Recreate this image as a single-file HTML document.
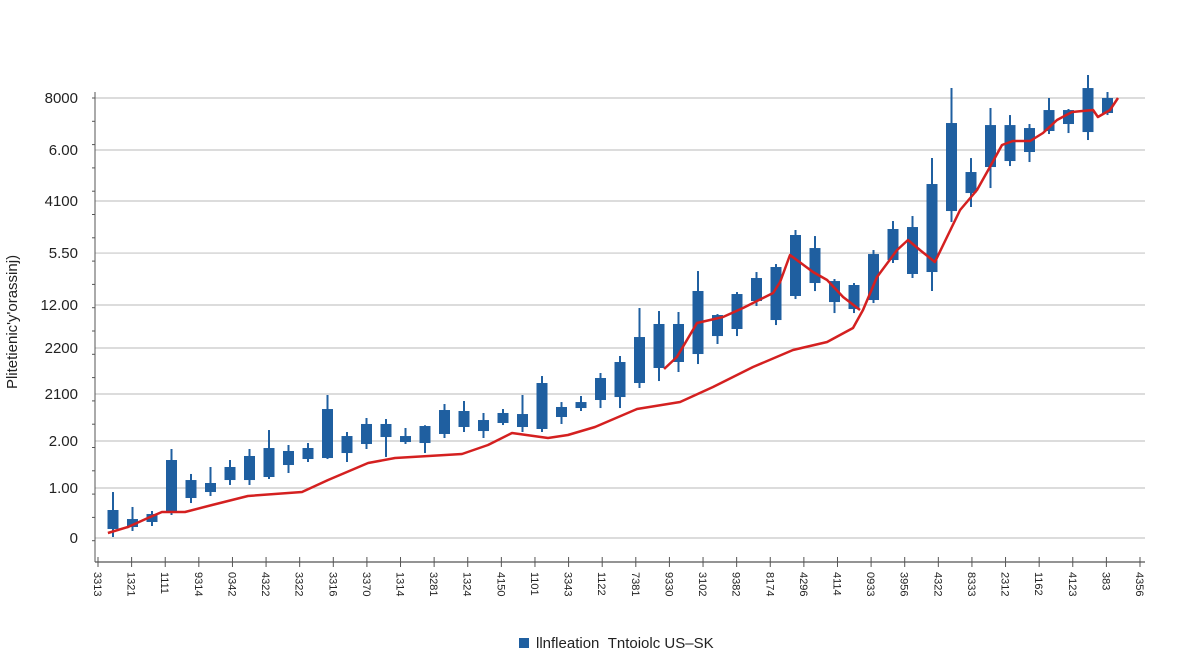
<!DOCTYPE html>
<html><head><meta charset="utf-8"><style>
html,body{margin:0;padding:0;background:#fff;width:1200px;height:654px;overflow:hidden}
svg{display:block;font-family:"Liberation Sans",sans-serif}
</style></head><body>
<svg id="chart" width="1200" height="654" viewBox="0 0 1200 654" xmlns="http://www.w3.org/2000/svg">
<g id="grid"></g>
<g id="yaxis"></g>
<g id="xaxis"></g>
<g id="candles"></g>
<g id="lines"></g>
<text x="0" y="0" transform="translate(17,322) rotate(-90)" text-anchor="middle" font-size="15" fill="#222">Plitetienic'y'orassinj)</text>
<g>
<rect x="519" y="638" width="10" height="10" fill="#1f5fa0"></rect>
<text x="536" y="648" font-size="15" fill="#222">llnfleation&#160;&#160;Tntoiolc US–SK</text>
</g>
</svg>
<script>
const yTickValues=[8000,7054,6127,5181,4236,3454,2618,1764,909,0];
const yTickLabels=["8000","6.00","4100","5.50","12.00","2200","2100","2.00","1.00","0"];
const xTickLabels=["3313","1321","1111","9314","0342","4322","3322","3316","3370","1314","3281","1324","4150","1101","3343","1122","7381","9330","3102","9382","8174","4296","4114","0933","3956","4322","8333","2312","1162","4123","383","4356"];
const candleHigh=[836,564,491,1618,1164,1291,1418,1618,1963,1691,1727,2600,1927,2182,2163,2000,2050,2436,2491,2273,2345,2600,2945,2472,2582,3000,3309,4182,4127,4109,4854,4072,4472,4836,4981,5600,5490,4709,4636,5236,5763,5854,6908,8181,6908,7818,7690,7527,8000,7800,8418,8109];
const candleTop=[509,345,436,1418,1054,1000,1291,1491,1636,1582,1636,2345,1854,2073,2073,1854,2036,2327,2309,2145,2273,2254,2818,2382,2472,2909,3200,3654,3891,3891,4491,4054,4436,4727,4927,5509,5272,4672,4600,5163,5618,5654,6436,7545,6654,7508,7508,7454,7781,7781,8181,8000];
const candleBottom=[164,200,291,473,727,836,1054,1054,1109,1327,1436,1454,1545,1709,1836,1745,1727,1891,2018,1945,2091,2018,1982,2200,2363,2509,2563,2818,3091,3200,3345,3672,3800,4309,3963,4400,4636,4290,4163,4327,5054,4800,4836,5945,6272,6745,6854,7018,7400,7527,7381,7727];
const candleLow=[18,127,218,418,636,764,964,964,1073,1182,1382,1436,1382,1618,1473,1709,1545,1818,1927,1818,2054,1927,1927,2073,2309,2363,2363,2727,2854,3018,3163,3527,3672,4218,3872,4345,4490,4090,4090,4272,5000,4727,4490,5745,6018,6363,6763,6836,7345,7363,7236,7690];
const trendIdx=[-0.26,0.77,1.79,2.51,3.69,5.08,6.92,9.69,11.03,13.08,14.46,17.9,19.23,20.46,22.31,23.33,24.72,26.87,29.08,30.77,32.82,34.87,36.62,37.95,38.46,39.18,40.21,40.77,41.38,42.15,42.77,43.44,44.31,44.97,45.59,46.15,47.03,47.69,48.41,49.18,50.26,50.51,51.13,51.54];
const trendVal=[91,200,364,473,473,600,764,836,1054,1364,1454,1527,1691,1909,1818,1873,2018,2345,2473,2745,3109,3418,3563,3818,4145,4745,5236,5418,5236,5018,5472,5963,6327,6745,7145,7218,7218,7363,7600,7745,7781,7654,7781,8000];
const maIdx=[28.26,28.92,29.95,31.28,32.31,33.85,34.21,34.72,35.9,36.62,37.44,38.31];
const maVal=[3073,3291,3909,4018,4182,4454,4654,5145,4836,4690,4382,4145];

const NS="http://www.w3.org/2000/svg";
const X0=95,X1=1145,Y0=538,Y1=98,VMAX=8000;
function y(v){return Y0-(v/VMAX)*(Y0-Y1);}
function xc(i){return 113+i*19.5;}
function xt(i){return 98+i*(1140-98)/(xTickLabels.length-1);}
function mk(tag,attrs,parent){const e=document.createElementNS(NS,tag);for(const k in attrs)e.setAttribute(k,attrs[k]);parent.appendChild(e);return e;}
const grid=document.getElementById('grid'),ya=document.getElementById('yaxis'),xa=document.getElementById('xaxis'),cg=document.getElementById('candles'),lg=document.getElementById('lines');
yTickValues.forEach((v,i)=>{
  const l=mk('line',{x1:X0,x2:X1,y1:y(v),y2:y(v),stroke:'#c8c8c8','stroke-width':1.2},grid);
  
  
  const t=mk('text',{x:78,y:y(v)+5,'text-anchor':'end','font-size':15,fill:'#222'},ya);
  t.textContent=yTickLabels[i];
  
  
});
const yl=mk('line',{x1:X0,x2:X0,y1:92,y2:562,stroke:'#555','stroke-width':1},ya);


for(let k=0;k<20;k++){const tk=mk('line',{x1:X0-3,x2:X0,y1:98+k*23.3,y2:98+k*23.3,stroke:'#555'},ya);

}
const xl=mk('line',{x1:X0,x2:X1,y1:562,y2:562,stroke:'#555','stroke-width':1.2},xa);


xTickLabels.forEach((s,i)=>{
  const tk=mk('line',{x1:xt(i),x2:xt(i),y1:557,y2:567,stroke:'#555'},xa);
  
  
  const t=mk('text',{x:0,y:0,transform:`translate(${xt(i)-4},572) rotate(90)`,'font-size':11,fill:'#222'},xa);
  t.textContent=s;
  
  
});
candleHigh.forEach((h,i)=>{
  const g=mk('g',{},cg);
  
  
  mk('line',{x1:xc(i),x2:xc(i),y1:y(h),y2:y(candleLow[i]),stroke:'#1f5fa0','stroke-width':2},g);
  const top=y(candleTop[i]),bot=y(candleBottom[i]);
  mk('rect',{x:xc(i)-5.5,y:top,width:11,height:Math.max(2,bot-top),fill:'#1f5fa0'},g);
});
function path(ix,vals,name){
  const d=ix.map((t,k)=>(k?'L':'M')+xc(t).toFixed(1)+','+y(vals[k]).toFixed(1)).join(' ');
  const p=mk('path',{d:d,fill:'none',stroke:'#d42020','stroke-width':2.5,'stroke-linejoin':'round'},lg);
  
  
}
path(trendIdx,trendVal,'trend-line');
path(maIdx,maVal,'moving-average-line');
</script>
</body></html>
